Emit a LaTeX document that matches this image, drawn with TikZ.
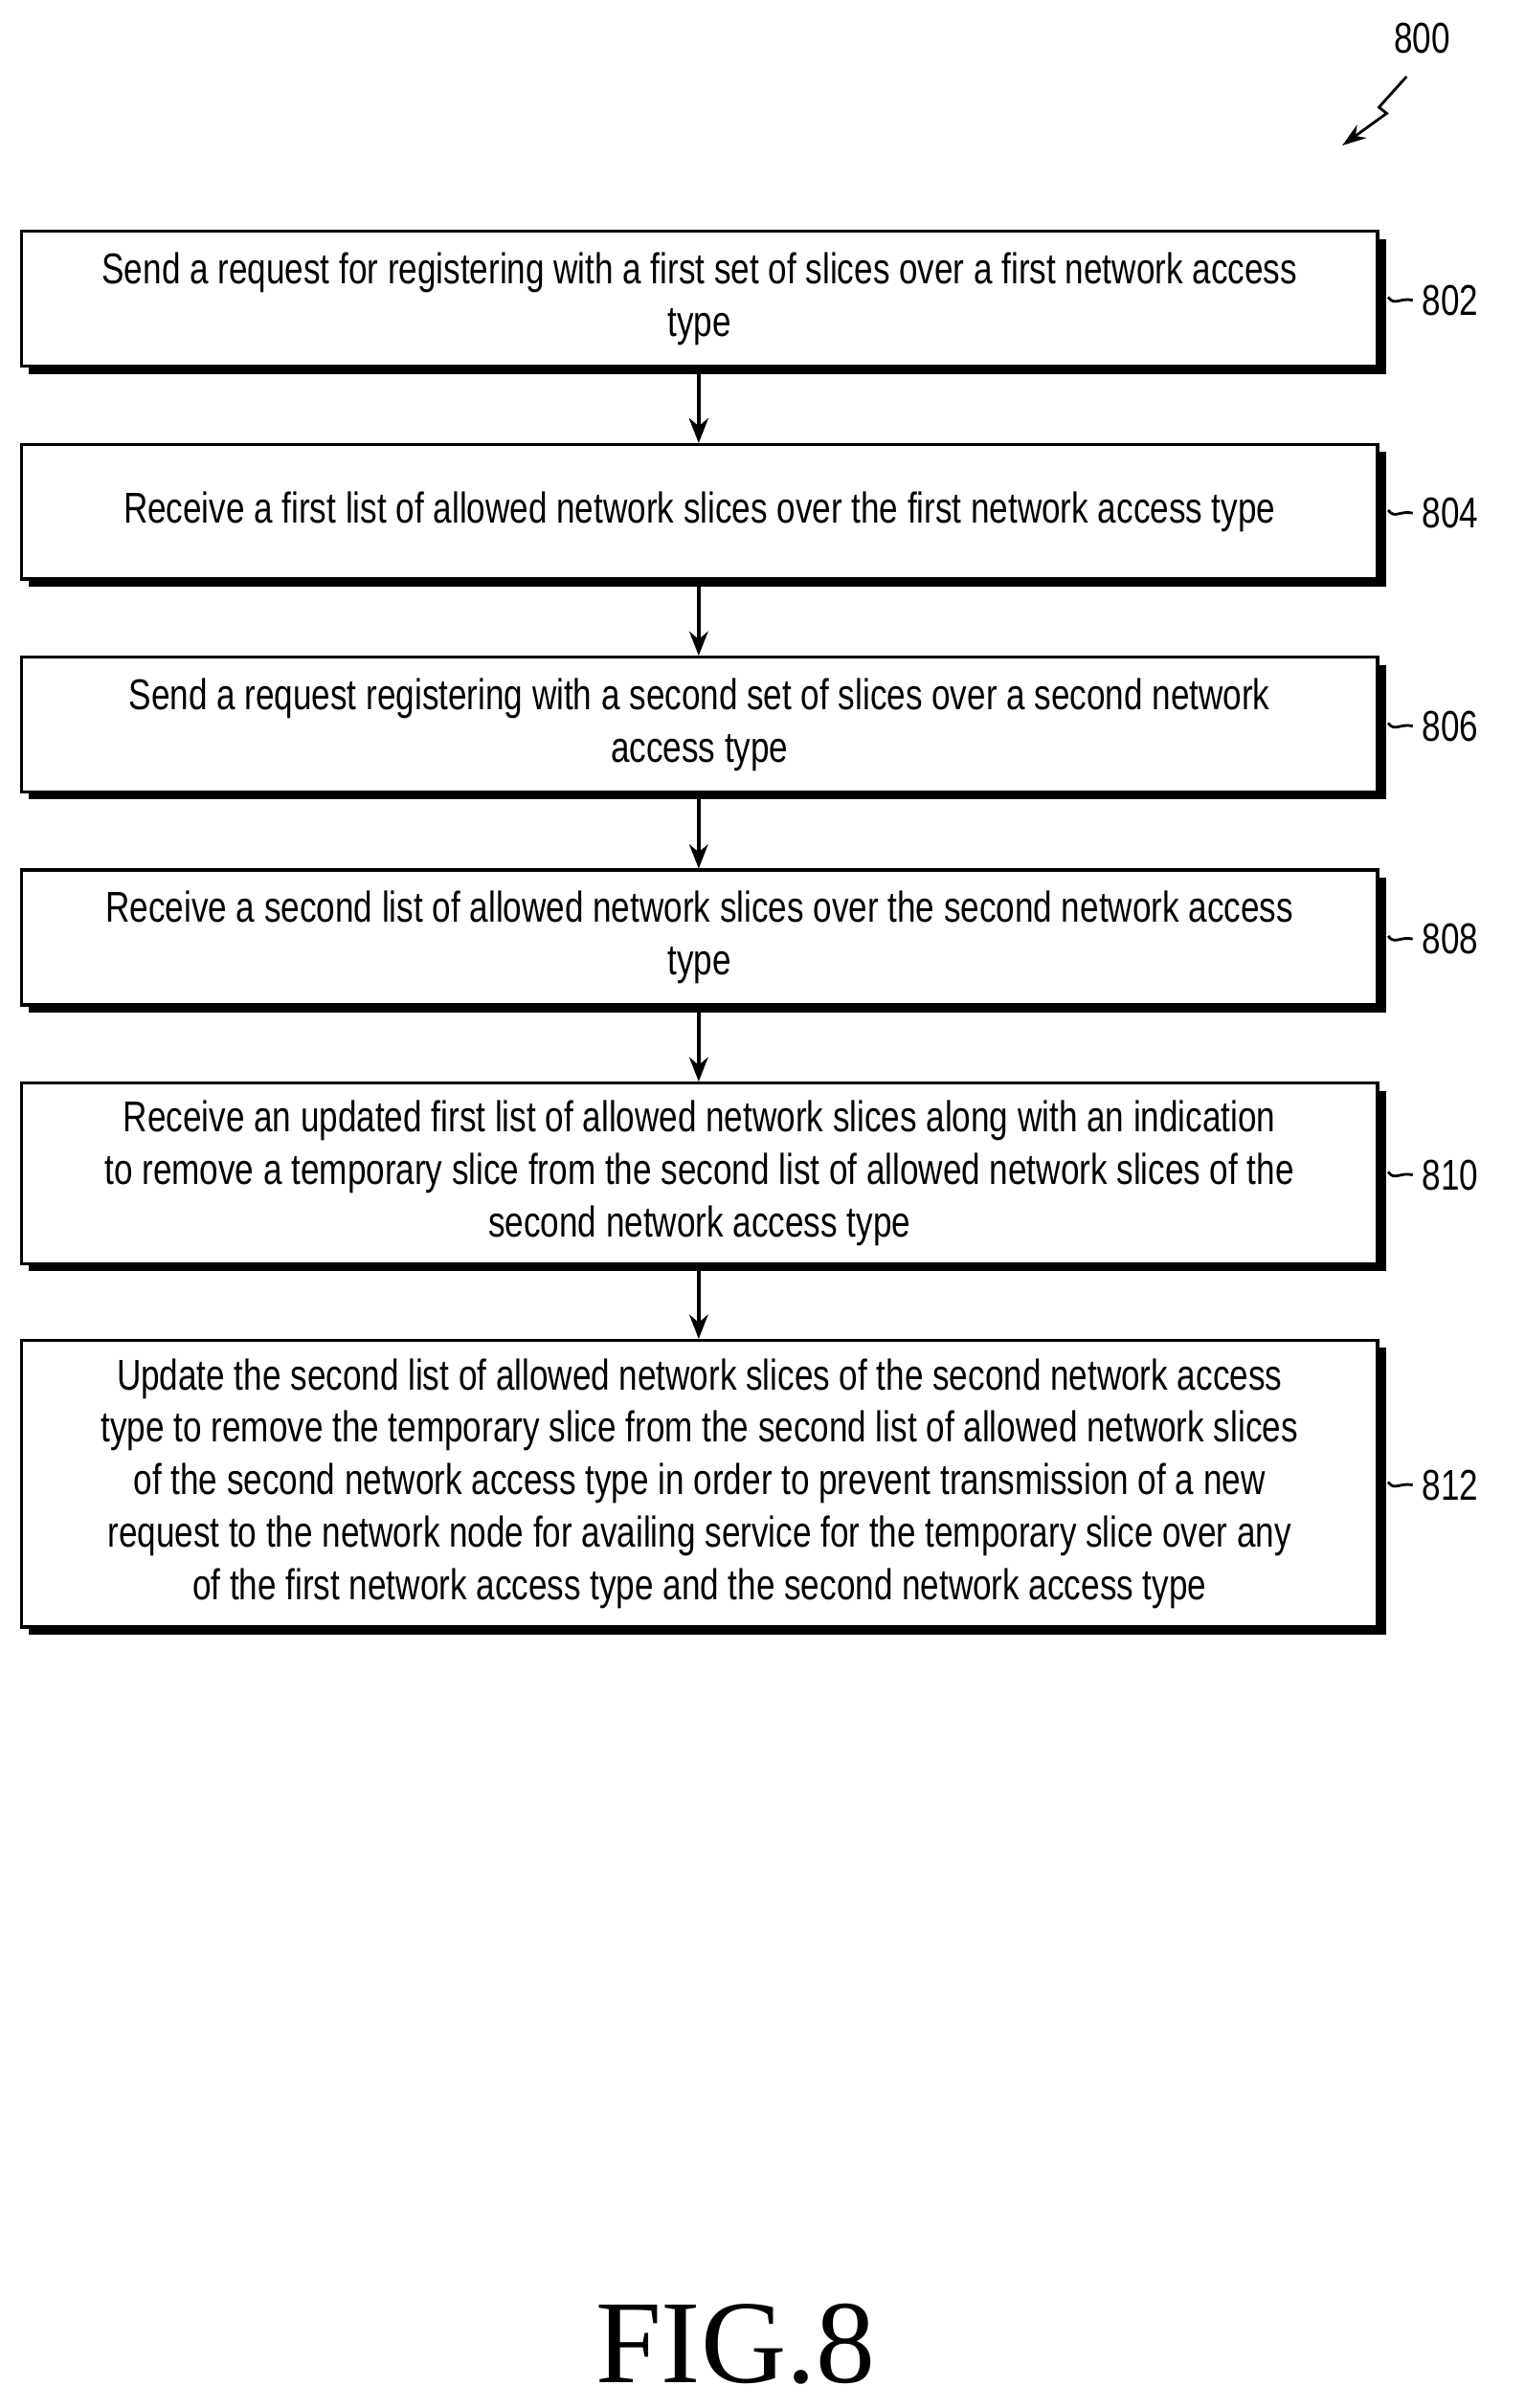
\documentclass[tikz,border=0pt]{standalone}
\usepackage{fontspec}
\setmainfont{Liberation Sans}[FakeStretch=0.78]
\newfontfamily\figfont{Liberation Serif}
\usetikzlibrary{arrows.meta,decorations.pathmorphing}
\begin{document}
\begin{tikzpicture}[x=0.02cm,y=-0.02cm,
 box/.style={draw,line width=1.2pt,fill=white,align=center,font=\fontsize{16}{19.5}\selectfont},
 shad/.style={fill=black},
 arr/.style={-{Stealth[length=9pt,width=7pt]},line width=1.2pt},
 lab/.style={font=\fontsize{16}{19}\selectfont,anchor=west},
 tick/.style={line width=1pt}]
\useasboundingbox (0,0) rectangle (995,1572);
\def\bx#1#2#3#4#5{%
 \fill[shad] (19,#2+6) rectangle (905,#3+6);
 \node[box,minimum width=885*0.02cm,minimum height=(#3-#2)*0.02cm,anchor=north west] (#1) at (13,#2) {#4};
 \draw[tick] (906,{(#2+#3)/2}) .. controls (910,{(#2+#3)/2+6}) and (914,{(#2+#3)/2}) .. (922,{(#2+#3)/2+2}) coordinate (t#1);
 \node[lab] (l#1) at (t#1) {#5};}
\bx{a}{150}{238}{Send a request for registering with a first set of slices over a first network access\\type}{802}
\bx{b}{289}{377}{Receive a first list of allowed network slices over the first network access type}{804}
\bx{c}{428}{516}{Send a request registering with a second set of slices over a second network\\access type}{806}
\bx{d}{567}{655}{Receive a second list of allowed network slices over the second network access\\type}{808}
\bx{e}{706}{824}{Receive an updated first list of allowed network slices along with an indication\\to remove a temporary slice from the second list of allowed network slices of the\\second network access type}{810}
\bx{f}{874}{1061}{Update the second list of allowed network slices of the second network access\\type to remove the temporary slice from the second list of allowed network slices\\of the second network access type in order to prevent transmission of a new\\request to the network node for availing service for the temporary slice over any\\of the first network access type and the second network access type}{812}
\draw[arr] (a.south -| 456,0) ++(0,6) -- ([xshift=0pt]b.north -| 456,0);
\draw[arr] (456,244) -- (456,289);
\draw[arr] (456,383) -- (456,428);
\draw[arr] (456,522) -- (456,567);
\draw[arr] (456,661) -- (456,706);
\draw[arr] (456,830) -- (456,874);
\node[lab,anchor=center] (n800) at (928,25) {800};
\coordinate (s0) at (918,50);
\draw[-{Stealth[length=9pt,width=6pt]},line width=1pt] (s0) -- (900,70) -- (905,74) -- (876,95);
\node[font=\figfont\fontsize{44}{50}\selectfont] (fig) at (480,1530) {FIG.8};
\end{tikzpicture}
\end{document}
